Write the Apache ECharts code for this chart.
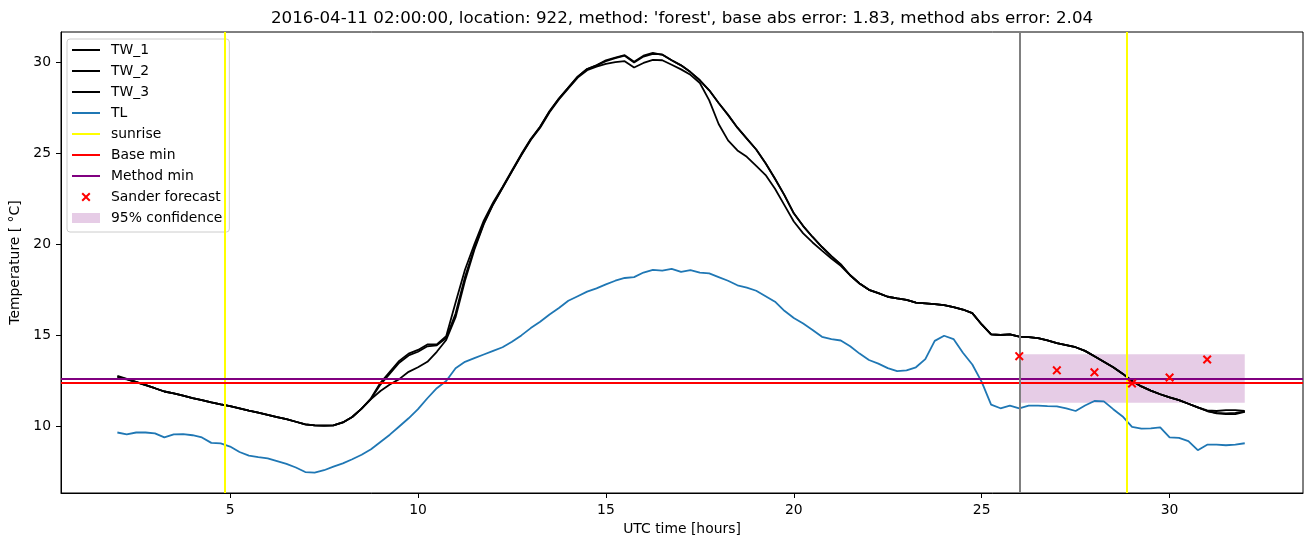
<!DOCTYPE html>
<html>
<head>
<meta charset="utf-8">
<script src="https://cdn.jsdelivr.net/npm/echarts@6/dist/echarts.min.js"></script>
<style>html,body{margin:0;padding:0;background:#fff;}#chart{width:1310px;height:547px;}</style>
</head>
<body>
<div id="chart"></div>
<script>
const hours = [2,2.25,2.5,2.75,3,3.25,3.5,3.75,4,4.25,4.5,4.75,5,5.25,5.5,5.75,6,6.25,6.5,6.75,
7,7.25,7.5,7.75,8,8.25,8.5,8.75,9,9.25,9.5,9.75,10,10.25,10.5,10.75,11,11.25,11.5,11.75,
12,12.25,12.5,12.75,13,13.25,13.5,13.75,14,14.25,14.5,14.75,15,15.25,15.5,15.75,16,16.25,16.5,16.75,
17,17.25,17.5,17.75,18,18.25,18.5,18.75,19,19.25,19.5,19.75,20,20.25,20.5,20.75,21,21.25,21.5,21.75,
22,22.25,22.5,22.75,23,23.25,23.5,23.75,24,24.25,24.5,24.75,25,25.25,25.5,25.75,26,26.25,26.5,26.75,
27,27.25,27.5,27.75,28,28.25,28.5,28.75,29,29.25,29.5,29.75,30,30.25,30.5,30.75,31,31.25,31.5,31.75,32];

const tw1 = [12.66,12.58,12.43,12.27,12.1,11.92,11.82,11.7,11.56,11.45,11.33,11.22,11.12,11.0,10.87,10.76,10.64,10.52,10.4,10.26,
10.12,10.06,10.05,10.06,10.22,10.52,10.98,11.55,12.4,13.0,13.6,14.0,14.2,14.5,14.5,14.95,16.8,18.6,20.0,21.3,
22.3,23.15,24.05,24.95,25.78,26.45,27.3,28.0,28.6,29.2,29.62,29.82,30.1,30.25,30.38,30.02,30.35,30.5,30.4,30.1,
29.82,29.45,29.0,28.45,27.75,27.1,26.4,25.8,25.2,24.45,23.6,22.7,21.7,21.0,20.4,19.85,19.35,18.9,18.3,17.85,
17.5,17.32,17.12,17.03,16.95,16.8,16.76,16.72,16.66,16.55,16.42,16.22,15.6,15.05,15.02,15.05,14.93,14.9,14.85,14.72,
14.58,14.47,14.35,14.15,13.85,13.55,13.25,12.9,12.5,12.2,11.97,11.77,11.6,11.45,11.25,11.05,10.88,10.85,10.9,10.9,10.85];

const tw2 = [12.78,12.62,12.45,12.28,12.1,11.92,11.82,11.7,11.56,11.45,11.33,11.22,11.12,11.0,10.87,10.76,10.64,10.52,10.4,10.26,
10.12,10.06,10.05,10.06,10.22,10.52,10.98,11.5,11.95,12.3,12.6,13.0,13.25,13.55,14.1,14.75,16.0,18.0,19.7,21.1,
22.2,23.1,24.0,24.9,25.75,26.45,27.3,28.0,28.6,29.2,29.62,29.82,30.05,30.22,30.35,29.98,30.3,30.45,30.42,30.1,
29.82,29.45,29.0,28.45,27.75,27.1,26.4,25.8,25.2,24.45,23.6,22.7,21.7,21.0,20.4,19.85,19.35,18.9,18.3,17.85,
17.5,17.32,17.12,17.03,16.95,16.8,16.76,16.72,16.66,16.55,16.42,16.22,15.6,15.05,15.02,15.05,14.93,14.9,14.85,14.72,
14.58,14.47,14.35,14.15,13.85,13.55,13.25,12.9,12.5,12.2,11.97,11.77,11.6,11.45,11.25,11.05,10.85,10.72,10.68,10.68,10.8];

const tw3 = [12.72,12.6,12.44,12.27,12.1,11.92,11.82,11.7,11.56,11.45,11.33,11.22,11.12,11.0,10.87,10.76,10.64,10.52,10.4,10.26,
10.12,10.06,10.05,10.06,10.22,10.52,10.98,11.52,12.3,12.9,13.5,13.9,14.1,14.4,14.45,14.85,16.2,18.2,19.8,21.15,
22.2,23.1,24.0,24.9,25.72,26.4,27.25,27.95,28.55,29.15,29.55,29.75,29.9,30.0,30.05,29.7,29.95,30.12,30.1,29.85,
29.6,29.3,28.85,27.9,26.6,25.7,25.15,24.8,24.3,23.8,23.05,22.15,21.25,20.6,20.1,19.65,19.22,18.82,18.3,17.85,
17.5,17.32,17.12,17.03,16.95,16.8,16.76,16.72,16.66,16.55,16.42,16.22,15.6,15.05,15.02,15.05,14.93,14.9,14.85,14.72,
14.58,14.47,14.35,14.15,13.85,13.55,13.25,12.9,12.5,12.2,11.97,11.77,11.6,11.45,11.25,11.05,10.85,10.75,10.72,10.75,10.82];

const tl = [9.67,9.57,9.67,9.67,9.62,9.4,9.57,9.58,9.52,9.4,9.1,9.07,8.9,8.6,8.4,8.32,8.25,8.1,7.95,7.75,
7.5,7.47,7.6,7.8,7.98,8.2,8.45,8.75,9.15,9.55,10.0,10.45,10.95,11.55,12.1,12.5,13.2,13.55,13.75,13.95,
14.15,14.35,14.65,15.0,15.4,15.75,16.15,16.5,16.9,17.15,17.4,17.58,17.8,18.0,18.15,18.2,18.45,18.6,18.55,18.65,
18.48,18.58,18.45,18.4,18.2,18.0,17.75,17.62,17.45,17.15,16.85,16.35,15.95,15.65,15.3,14.92,14.8,14.72,14.4,14.0,
13.65,13.45,13.2,13.04,13.08,13.25,13.7,14.7,14.98,14.8,14.05,13.4,12.45,11.2,11.0,11.15,11.0,11.15,11.15,11.12,
11.1,11.0,10.85,11.15,11.4,11.38,10.95,10.55,9.98,9.88,9.9,9.95,9.4,9.37,9.2,8.7,9.0,9.0,8.97,9.0,9.08];

const forecastHours = [26,27,28,29,30,31];
const forecastValues = [13.86,13.08,12.97,12.36,12.69,13.68];

const sunriseHours = [4.85, 28.86];
const nowHour = 26;
const baseMin = 12.42;
const methodMin = 12.63;
const confStart = 26, confEnd = 32, confLow = 11.30, confHigh = 13.97;

const xTicks = [5,10,15,20,25,30];
const yTicks = [10,15,20,25,30];

const titleText = "2016-04-11 02:00:00, location: 922, method: 'forest', base abs error: 1.83, method abs error: 2.04";

const FONT = 'DejaVu Sans';
const pair = (xs, ys) => xs.map((x, i) => [x, ys[i]]);

const lineIcon = 'path://M34,10M0,0M0,4H28V6H0Z';
const rectIcon = 'path://M34,10M0,0H28V10H0Z';
const xIcon = 'path://M34,10M0,0M9.5,1.9L10.9,0.5L14,3.6L17.1,0.5L18.5,1.9L15.4,5L18.5,8.1L17.1,9.5L14,6.4L10.9,9.5L9.5,8.1L12.6,5Z';
const xMarker = 'path://M0,1.6L1.6,0L5,3.4L8.4,0L10,1.6L6.6,5L10,8.4L8.4,10L5,6.6L1.6,10L0,8.4L3.4,5Z';

function lineSeries(name, data, color, z) {
  return {
    name, type: 'line', data, symbol: 'none', showSymbol: false, z: z,
    itemStyle: { color }, lineStyle: { color, width: 1.8 }, animation: false
  };
}

const noLabel = { show: false };

const option = {
  animation: false,
  title: {
    text: titleText, left: 271, top: 10, padding: 0,
    textStyle: { fontFamily: FONT, fontSize: 16.7, fontWeight: 'normal', color: '#000' }
  },
  grid: { left: 61, right: 7, top: 32, bottom: 54, show: true, borderColor: '#000', borderWidth: 1 },
  xAxis: {
    type: 'value', min: 0.5, max: 33.55,
    name: 'UTC time [hours]', nameLocation: 'middle', nameGap: 29,
    nameTextStyle: { fontFamily: FONT, fontSize: 13.9, color: '#000' },
    axisLine: { show: true, lineStyle: { color: '#000', width: 1 } },
    axisTick: { show: true, length: 5, lineStyle: { color: '#000' }, customValues: xTicks },
    axisLabel: { fontFamily: FONT, fontSize: 13.9, color: '#000', margin: 10, customValues: xTicks },
    splitLine: { show: false }
  },
  yAxis: {
    type: 'value', min: 6.35, max: 31.65,
    name: 'Temperature [ °C]', nameLocation: 'middle', nameGap: 30, nameRotate: 90,
    nameTextStyle: { fontFamily: FONT, fontSize: 13.9, color: '#000' },
    axisLine: { show: true, lineStyle: { color: '#000', width: 1 } },
    axisTick: { show: true, length: 5, lineStyle: { color: '#000' }, customValues: yTicks },
    axisLabel: { fontFamily: FONT, fontSize: 13.9, color: '#000', margin: 10, customValues: yTicks },
    splitLine: { show: false }
  },
  legend: {
    orient: 'vertical', left: 67, top: 39, padding: [4, 7, 7, 5],
    itemGap: 7, itemWidth: 34, itemHeight: 10, selectedMode: false,
    backgroundColor: 'rgba(255,255,255,0.8)', borderColor: '#cccccc', borderWidth: 1, borderRadius: 3,
    itemStyle: { borderWidth: 0 },
    textStyle: { fontFamily: FONT, fontSize: 13.9, color: '#000', lineHeight: 14 },
    data: [
      { name: 'TW_1', icon: lineIcon },
      { name: 'TW_2', icon: lineIcon },
      { name: 'TW_3', icon: lineIcon },
      { name: 'TL', icon: lineIcon },
      { name: 'sunrise', icon: lineIcon },
      { name: 'Base min', icon: lineIcon },
      { name: 'Method min', icon: lineIcon },
      { name: 'Sander forecast', icon: xIcon },
      { name: '95% confidence', icon: rectIcon }
    ]
  },
  series: [
    {
      name: '95% confidence', type: 'line', data: [], z: 1,
      itemStyle: { color: 'rgba(128,0,128,0.2)' },
      markArea: {
        silent: true, label: noLabel,
        itemStyle: { color: 'rgba(128,0,128,0.2)' },
        data: [[{ coord: [confStart, confLow] }, { coord: [confEnd, confHigh] }]]
      }
    },
    lineSeries('TW_1', pair(hours, tw1), '#000000', 3),
    lineSeries('TW_2', pair(hours, tw2), '#000000', 3),
    lineSeries('TW_3', pair(hours, tw3), '#000000', 3),
    lineSeries('TL', pair(hours, tl), '#1f77b4', 3),
    {
      name: 'sunrise', type: 'line', data: [], z: 4, itemStyle: { color: '#ffff00' },
      markLine: {
        silent: true, symbol: ['none', 'none'], label: noLabel,
        lineStyle: { color: '#ffff00', width: 2, type: 'solid' },
        data: sunriseHours.map(h => ({ xAxis: h }))
      }
    },
    {
      name: 'Base min', type: 'line', data: [], z: 4, itemStyle: { color: '#ff0000' },
      markLine: {
        silent: true, symbol: ['none', 'none'], label: noLabel,
        lineStyle: { color: '#ff0000', width: 2, type: 'solid' },
        data: [{ yAxis: baseMin }]
      }
    },
    {
      name: 'Method min', type: 'line', data: [], z: 4, itemStyle: { color: '#800080' },
      markLine: {
        silent: true, symbol: ['none', 'none'], label: noLabel,
        lineStyle: { color: '#800080', width: 2, type: 'solid' },
        data: [{ yAxis: methodMin }]
      }
    },
    {
      name: 'now', type: 'line', data: [], z: 4, itemStyle: { color: '#808080' },
      markLine: {
        silent: true, symbol: ['none', 'none'], label: noLabel,
        lineStyle: { color: '#808080', width: 2, type: 'solid' },
        data: [{ xAxis: nowHour }]
      }
    },
    {
      name: 'Sander forecast', type: 'scatter', z: 5,
      data: pair(forecastHours, forecastValues),
      symbol: xMarker, symbolSize: 9,
      itemStyle: { color: '#ff0000', opacity: 1 }
    }
  ]
};

const chart = echarts.init(document.getElementById('chart'), null, { renderer: 'canvas' });
chart.setOption(option);
</script>
</body>
</html>
